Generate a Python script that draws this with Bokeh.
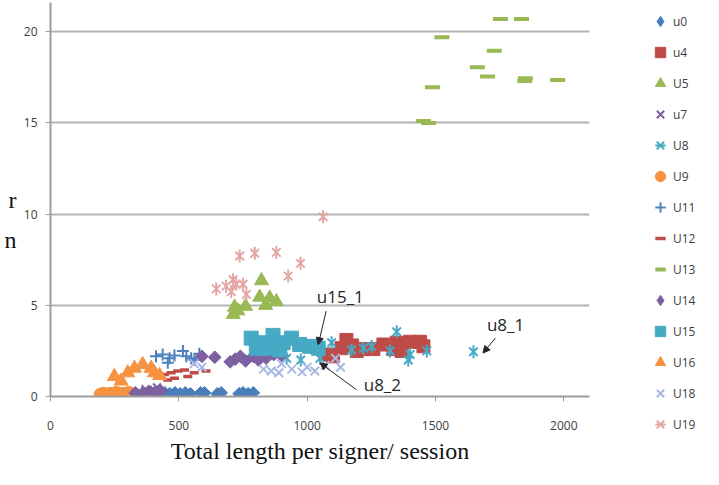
import numpy as np
from bokeh.plotting import figure
from bokeh.models import Legend, LegendItem, Label, Arrow, NormalHead, Range1d, LinearAxis, FixedTicker
from bokeh.embed import file_html
from bokeh.resources import INLINE

# ---------------- data ----------------
u0_x = [445, 465, 485, 505, 525, 545, 585, 600, 650, 665, 735, 750, 770, 790]
u0_y = [0.2, 0.15, 0.2, 0.15, 0.2, 0.15, 0.2, 0.2, 0.15, 0.2, 0.15, 0.2, 0.15, 0.2]

u4_x = [1082, 1101, 1134, 1153, 1175, 1193, 1220, 1258, 1297, 1336, 1349, 1368, 1401, 1440, 1453]
u4_y = [2.3, 2.2, 2.65, 3.1, 2.8, 2.5, 2.6, 2.6, 2.85, 2.6, 2.95, 2.5, 3.0, 3.0, 2.75]

u5_x = [712, 717, 730, 760, 815, 822, 838, 854, 880]
u5_y = [4.5, 4.9, 4.7, 4.95, 5.45, 6.35, 5.0, 5.4, 5.2]

u7_x = [345, 370, 395, 415, 385]
u7_y = [0.3, 0.4, 0.35, 0.5, 0.2]

u8_x = [1050, 1095, 1173, 1219, 1251, 1323, 1349, 1394, 1401, 1466, 1648, 920, 975]
u8_y = [2.1, 2.95, 2.55, 2.65, 2.75, 2.5, 3.55, 2.0, 2.3, 2.5, 2.45, 2.1, 2.0]

u9_x = [195, 207, 220, 232, 245, 257, 270, 282, 295, 305]
u9_y = [0.1, 0.15, 0.05, 0.15, 0.1, 0.2, 0.1, 0.15, 0.1, 0.2]

u11_x = [411, 437, 457, 464, 483, 516, 529, 548, 561, 580]
u11_y = [2.2, 2.3, 1.85, 2.1, 2.25, 2.5, 2.2, 2.1, 2.0, 2.35]

u12_x = [444, 457, 470, 483, 496, 522, 535, 560, 606]
u12_y = [1.2, 0.9, 1.3, 1.0, 1.4, 1.45, 1.1, 1.3, 1.4]

u13_x = [1453, 1473, 1488, 1525, 1663, 1703, 1729, 1753, 1835, 1848, 1850, 1976]
u13_y = [15.1, 15.0, 16.95, 19.7, 18.05, 17.55, 18.95, 20.7, 20.7, 17.3, 17.45, 17.35]

u14_x = [330, 360, 390, 410, 430, 590, 640, 700, 720, 740, 760, 790, 810, 840, 870, 900]
u14_y = [0.2, 0.15, 0.25, 0.2, 0.3, 2.2, 2.15, 1.9, 2.05, 2.2, 1.95, 2.2, 2.0, 2.1, 2.3, 2.25]

u15_x = [782, 802, 821, 854, 867, 893, 906, 939, 971, 1010, 1043]
u15_y = [3.2, 2.65, 2.95, 2.65, 3.35, 2.55, 2.95, 3.2, 2.85, 2.75, 2.65]

u16_x = [249, 275, 301, 327, 359, 392, 405, 425]
u16_y = [1.1, 0.85, 1.3, 1.55, 1.75, 1.55, 1.3, 1.15]

u18_x = [560, 590, 830, 860, 890, 900, 940, 980, 1000, 1030, 1070, 1110, 1130]
u18_y = [1.8, 1.6, 1.5, 1.4, 1.3, 1.8, 1.5, 1.35, 1.6, 1.4, 1.7, 2.1, 1.6]

u19_x = [646, 684, 704, 711, 724, 750, 763, 737, 796, 880, 926, 974, 1062]
u19_y = [5.9, 6.05, 5.75, 6.4, 6.15, 6.15, 5.6, 7.7, 7.85, 7.9, 6.6, 7.3, 9.85]

x_ticks = [0, 500, 1000, 1500, 2000]
y_ticks = [0, 5, 10, 15, 20]

# visible line endings of the (cropped) vertical axis title
ytitle_text = ["r", "n"]
ytitle_pos = [10.77, 8.58]

# annotations
ann_text = ["u15_1", "u8_1", "u8_2"]
ann_tx = [1129, 1773, 1293]
ann_ty = [5.5, 3.97, 0.68]
arr_x0 = [1074, 1733, 1192]
arr_y0 = [4.68, 3.2, 0.37]
arr_x1 = [1043, 1685, 1050]
arr_y1 = [2.84, 2.38, 1.84]

DIAMOND_PLOT = dict(marker="square", angle=np.pi / 4, size=9)   # square turned 45 degrees
DIAMOND_LEGEND = dict(marker="diamond", size=12)                 # legend ignores the angle

# series: name, x, y, style list (each style = one glyph layer)
series = [
    ("u0", u0_x, u0_y, [dict(marker="diamond_pt", fill_color="#4A7EBB", line_color="#4A7EBB")]),
    ("u4", u4_x, u4_y, [dict(marker="square", size=13, fill_color="#BE4B48", line_color="#BE4B48")]),
    ("U5", u5_x, u5_y, [dict(marker="triangle", size=14, fill_color="#98B954", line_color="#98B954")]),
    ("u7", u7_x, u7_y, [dict(marker="x", size=11, line_color="#7D60A0", line_width=2)]),
    ("U8", u8_x, u8_y, [dict(marker="x", size=12, line_color="#46AAC5", line_width=2),
                        dict(marker="dash", angle=np.pi / 2, size=13, line_color="#46AAC5", line_width=2)]),
    ("U9", u9_x, u9_y, [dict(marker="circle", size=13, fill_color="#F69240", line_color="#F69240")]),
    ("U11", u11_x, u11_y, [dict(marker="cross", size=12, line_color="#4F81BD", line_width=2)]),
    ("U12", u12_x, u12_y, [dict(marker="dash", size=9, line_color="#BE4B48", line_width=3.5)]),
    ("U13", u13_x, u13_y, [dict(marker="dash", size=15, line_color="#98B954", line_width=4)]),
    ("U14", u14_x, u14_y, [dict(marker="diamond_pt", fill_color="#7D60A0", line_color="#7D60A0")]),
    ("U15", u15_x, u15_y, [dict(marker="square", size=14, fill_color="#46AAC5", line_color="#46AAC5")]),
    ("U16", u16_x, u16_y, [dict(marker="triangle", size=14, fill_color="#F69240", line_color="#F69240")]),
    ("U18", u18_x, u18_y, [dict(marker="x", size=12, line_color="#A7B9E3", line_width=2)]),
    ("U19", u19_x, u19_y, [dict(marker="x", size=12, line_color="#E3A6A5", line_width=2),
                           dict(marker="dash", angle=np.pi / 2, size=13, line_color="#E3A6A5", line_width=2)]),
]


def style_for(st, legend_view):
    st = dict(st)
    if st.get("marker") == "diamond_pt":
        st.pop("marker")
        st.update(DIAMOND_LEGEND if legend_view else DIAMOND_PLOT)
    return st


# ---------------- main figure ----------------
p = figure(width=640, height=469, x_range=Range1d(0, 2100), y_range=Range1d(0, 21.6),
           output_backend="svg", toolbar_location=None,
           min_border_left=50, min_border_right=51, min_border_top=2, min_border_bottom=73)
p.outline_line_color = None
p.background_fill_color = "white"
p.xgrid.grid_line_color = None
p.ygrid.grid_line_color = "#B3B3B3"
p.ygrid.grid_line_width = 2
p.xaxis.ticker = x_ticks
p.yaxis.ticker = y_ticks

for ax in (p.xaxis[0], p.yaxis[0]):
    ax.axis_line_color = "#9C9C9C"
    ax.axis_line_width = 2
    ax.major_tick_line_color = "#9C9C9C"
    ax.major_tick_line_width = 1
    ax.major_tick_out = 5
    ax.major_tick_in = 0
    ax.minor_tick_line_color = None
    ax.major_label_text_font = "Open Sans"
    ax.major_label_text_font_size = "12px"
    ax.major_label_text_color = "#404040"
p.xaxis.major_label_standoff = 19
p.yaxis.major_label_standoff = 8
p.xaxis.axis_label = "Total length per signer/ session"
p.xaxis.axis_label_text_font = "Liberation Serif"
p.xaxis.axis_label_text_font_style = "normal"
p.xaxis.axis_label_text_font_size = "24px"
p.xaxis.axis_label_text_color = "#111111"
p.xaxis.axis_label_standoff = 5

# extra left axis carrying the visible fragments of the y title
yt_axis = LinearAxis(ticker=FixedTicker(ticks=ytitle_pos),
                     major_label_overrides={ytitle_pos[i]: ytitle_text[i] for i in range(2)},
                     axis_line_color=None, major_tick_line_color=None, minor_tick_line_color=None,
                     major_tick_out=0, major_tick_in=0, major_label_standoff=4,
                     major_label_text_font="Liberation Serif", major_label_text_font_size="24px",
                     major_label_text_color="#111111")
p.add_layout(yt_axis, "left")

for name, xs, ys, styles in series:
    for st in styles:
        p.scatter(xs, ys, **style_for(st, False))

for i in range(len(ann_text)):
    p.add_layout(Arrow(end=NormalHead(size=7, fill_color="#262626", line_color="#262626", line_width=1),
                       x_start=arr_x0[i], y_start=arr_y0[i], x_end=arr_x1[i], y_end=arr_y1[i],
                       line_color="#262626", line_width=1))
    p.add_layout(Label(x=ann_tx[i], y=ann_ty[i], text=ann_text[i], text_align="center",
                       text_baseline="middle", text_font="Open Sans", text_font_size="17px",
                       text_color="#262626"))

# ---------------- legend panel (separate root, placed to the right of the chart) ----------------
# same series drawn again, but its ranges keep every point out of view: only the legend shows
lg = figure(width=63, height=469, output_backend="svg", toolbar_location=None,
            x_range=Range1d(-2, -1), y_range=Range1d(-2, -1),
            min_border=0, x_axis_type=None, y_axis_type=None,
            styles={"position": "absolute", "left": "648px", "top": "8px"})
lg.outline_line_color = None
lg.xgrid.grid_line_color = None
lg.ygrid.grid_line_color = None
items = []
for name, xs, ys, styles in series:
    rs = [lg.scatter(xs, ys, **style_for(st, True)) for st in styles]
    items.append(LegendItem(label=name, renderers=rs))

legend = Legend(items=items, location=(-1, 40), orientation="vertical",
                glyph_width=26, glyph_height=26, label_height=26, spacing=5,
                padding=0, margin=0, label_standoff=0,
                label_text_font="Open Sans", label_text_font_size="12px",
                label_text_color="#404040", border_line_color=None,
                background_fill_alpha=0)
lg.add_layout(legend)

open("out.html", "w").write(file_html([p, lg], INLINE))
